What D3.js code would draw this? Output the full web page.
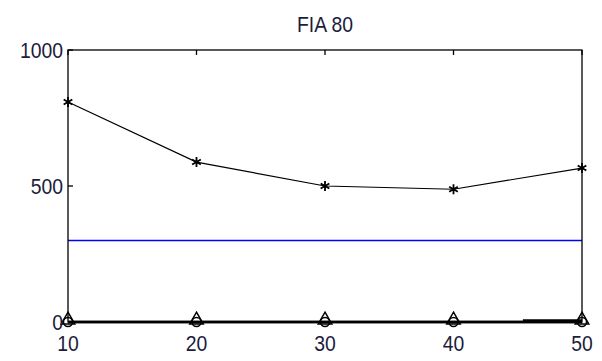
<!DOCTYPE html>
<html>
<head>
<meta charset="utf-8">
<script src="https://cdn.jsdelivr.net/npm/d3@7"></script>
<style>
  body { margin: 0; background: #fff; }
  text { font-family: "Liberation Sans", Arial, sans-serif; }
</style>
</head>
<body>
<div id="chart"></div>
<script>
// chart data
const xValues = [10, 20, 30, 40, 50];
const starSeries = [809, 588, 500, 488, 566];
const blueLevel = [300, 300, 300, 300, 300];
const triSeries = [0, 0, 0, 0, 0];
const circSeries = [0, 0, 0, 0, 0];
const smallSeries = [0, 0, 0, 0, 4];
const xTicks = [10, 20, 30, 40, 50];
const yTicks = [0, 500, 1000];
const chartTitle = "FIA 80";

const width = 602, height = 361;
const margin = {top: 50, right: 20, bottom: 39, left: 68};
const fontSize = 22;
const squeeze = 0.88; // text in the reference is narrow

var svg = d3.select('#chart')
  .append('svg')
  .attr('width', width)
  .attr('height', height);

var x = d3.scaleLinear().domain([10, 50]).range([margin.left, width - margin.right]);
var y = d3.scaleLinear().domain([0, 1000]).range([height - margin.bottom, margin.top]);

//lines
var line = d3.line()
  .x(function(d, i) { return x(xValues[i]); })
  .y(function(d) { return y(d); });

svg.append('path').attr('d', line(blueLevel))
  .attr('fill', 'none').attr('stroke', '#0000ff').attr('stroke-width', 1.5);

svg.append('path').attr('d', line(starSeries))
  .attr('fill', 'none').attr('stroke', '#000').attr('stroke-width', 1.2);

svg.append('path').attr('d', line(triSeries))
  .attr('fill', 'none').attr('stroke', '#000').attr('stroke-width', 2.5);
svg.append('path').attr('d', line(circSeries))
  .attr('fill', 'none').attr('stroke', '#000').attr('stroke-width', 2.5);
// thick bit near the right end
svg.append('line')
  .attr('x1', x(45.4)).attr('x2', x(50))
  .attr('y1', y(smallSeries[4])).attr('y2', y(smallSeries[4]))
  .attr('stroke', '#000').attr('stroke-width', 3.5);

//markers
var star = d3.symbol().type(d3.symbolAsterisk).size(70);
svg.selectAll('.star').data(starSeries).enter()
  .append('path')
  .attr('transform', function(d, i){ return 'translate(' + x(xValues[i]) + ',' + y(d) + ')'; })
  .attr('d', star)
  .attr('stroke', '#000').attr('stroke-width', 1.8).attr('fill', 'none');

svg.selectAll('.tri').data(triSeries).enter()
  .append('path')
  .attr('transform', function(d, i){ return 'translate(' + x(xValues[i]) + ',' + (y(d) - 2) + ')'; })
  .attr('d', d3.symbol().type(d3.symbolTriangle).size(80))
  .attr('stroke', '#000').attr('stroke-width', 1.5).attr('fill', 'none');

svg.selectAll('.circ').data(circSeries).enter()
  .append('circle')
  .attr('cx', function(d, i){ return x(xValues[i]); })
  .attr('cy', function(d){ return y(d); })
  .attr('r', 4.5)
  .attr('stroke', '#000').attr('stroke-width', 1.5).attr('fill', 'none');

//box
svg.append('rect')
  .attr('x', margin.left).attr('y', margin.top)
  .attr('width', width - margin.left - margin.right)
  .attr('height', height - margin.top - margin.bottom)
  .attr('fill', 'none').attr('stroke', '#000').attr('stroke-width', 1.3);

//inward ticks
xTicks.forEach(function(t){
  svg.append('line').attr('x1', x(t)).attr('x2', x(t))
    .attr('y1', margin.top).attr('y2', margin.top + 5)
    .attr('stroke', '#000').attr('stroke-width', 1.3);
});
yTicks.forEach(function(t){
  svg.append('line').attr('x1', margin.left).attr('x2', margin.left + 5)
    .attr('y1', y(t)).attr('y2', y(t))
    .attr('stroke', '#000').attr('stroke-width', 1.3);
});

//labels
var addText = function(px, py, anchor, str){
  return svg.append('text')
    .attr('transform', 'translate(' + px + ',' + py + ') scale(' + squeeze + ',1)')
    .attr('text-anchor', anchor)
    .attr('font-size', fontSize)
    .attr('fill', '#1c1c3c')
    .text(str);
};

xTicks.forEach(function(t){ addText(x(t), height - 10, 'middle', t); });
yTicks.forEach(function(t){ addText(margin.left - 5, y(t) + 8, 'end', t); });
addText((margin.left + width - margin.right) / 2, 32, 'middle', chartTitle);
</script>
</body>
</html>
